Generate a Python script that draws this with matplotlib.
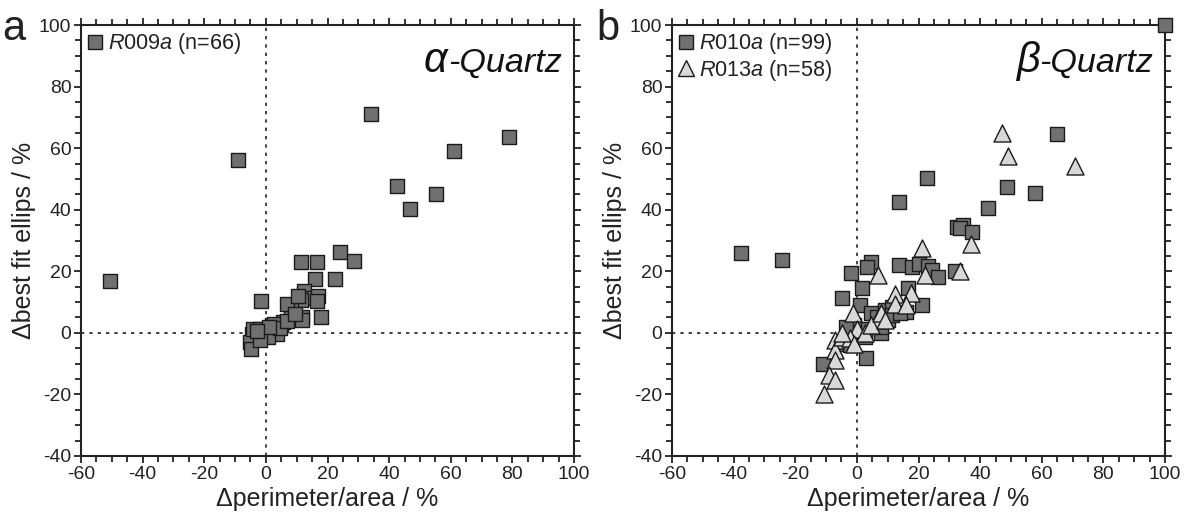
import matplotlib
matplotlib.use("Agg")
import matplotlib.pyplot as plt
from matplotlib.ticker import MultipleLocator
from matplotlib.lines import Line2D
from matplotlib import font_manager

names = {f.name for f in font_manager.fontManager.ttflist}
NARROW = 'Liberation Sans Narrow' in names
FONT = 'Liberation Sans Narrow' if NARROW else 'Liberation Sans'
k = 1.0 if NARROW else 0.82  # width compensation when narrow face is missing

plt.rcParams['font.family'] = [FONT, 'DejaVu Sans']
plt.rcParams['axes.unicode_minus'] = False
plt.rcParams['mathtext.fontset'] = 'custom'
plt.rcParams['mathtext.it'] = FONT + ':italic'
plt.rcParams['mathtext.rm'] = FONT

# Panel a: R009a
a_x = [-50.7, -8.9, 34.0, 78.9, 61.2, 42.5, 55.3, 46.8, 23.9, 28.7, 11.4, 16.5,
       15.8, 22.5, -1.7, 12.5, 13.0, 16.8, 16.5, 18.0, 11.4, 11.8, 11.8, 8.1, 6.8,
       5.0, 5.6, 0.2, -4.5, -5.3, -4.7, -4.3, -1.9, 1.9, 3.1, 3.7, 0.6, -1.9,
       2.5, 4.5, 7.0, 9.5, 1.0, -3.0, 10.5]
a_y = [16.8, 56.3, 71.0, 63.5, 59.0, 47.8, 45.0, 40.3, 26.4, 23.4, 23.0, 23.0,
       17.6, 17.4, 10.2, 13.5, 11.4, 11.9, 10.3, 5.2, 10.8, 5.2, 4.1, 7.4, 9.3,
       2.5, 3.6, 0.1, -0.5, -2.9, -5.4, 1.4, 1.4, 2.5, 0.9, -0.5, -1.3, -2.4,
       3.0, 1.5, 4.0, 6.0, 2.0, 0.5, 12.0]

# Panel b: R010a (squares)
b1_x = [100.0, -37.6, -24.2, 13.6, 22.6, 65.0, 48.6, 57.9, 42.4, 32.5, 34.4, 33.5,
        37.5, 31.9, 13.6, 18.0, 20.1, 23.2, 24.4, 26.3, 4.6, 3.3, -2.0, 1.7, -4.7,
        0.9, 16.6, 21.1, 16.1, -10.9, 3.0, 7.7, 4.6, 6.5, 9.0, 11.4, 10.2, 7.7,
        2.7, -1.0, -3.5, -4.7, -2.2, 2.7, 11.4, 13.9]
b1_y = [100.0, 25.8, 23.6, 42.6, 50.2, 64.6, 47.5, 45.3, 40.4, 34.5, 35.0, 33.9,
        32.6, 20.0, 22.0, 21.5, 22.5, 21.8, 20.4, 18.2, 23.1, 21.5, 19.3, 14.6, 11.4,
        9.0, 14.7, 9.0, 6.8, -10.0, -8.3, -0.2, 6.3, 5.2, 7.4, 8.5, 4.1, 2.0,
        1.4, 2.5, 2.0, -3.5, -4.0, -1.3, 5.7, 6.3]

# Panel b: R013a (triangles)
b2_x = [47.1, 49.1, 70.7, 37.1, 33.5, 21.1, 22.0, 6.7, 12.3, 17.6, 12.3, 16.1,
        -1.4, 6.5, 0.2, -7.2, -7.2, -7.2, -9.1, -7.2, -10.7, -4.7, -2.2, -1.0,
        2.7, 4.6, 7.7, 9.0, -4.7]
b2_y = [64.8, 57.5, 54.3, 29.0, 20.0, 27.7, 18.7, 18.7, 12.6, 12.8, 9.5, 9.0,
        6.3, 4.1, 1.4, -2.4, -5.6, -8.9, -13.8, -15.4, -19.9, -1.3, -1.8, -3.5,
        -0.2, 2.5, 6.3, 4.1, -0.2]

x_ticks = [-60, -40, -20, 0, 20, 40, 60, 80, 100]
y_ticks = [-40, -20, 0, 20, 40, 60, 80, 100]

SQ_FACE = '#707070'
TRI_FACE = '#d8d8d8'
EDGE = '#1a1a1a'
TXT = '#222222'

fig = plt.figure(figsize=(11.89, 5.13), dpi=100)
ax1 = fig.add_axes([81/1189, 1-456/513, 493/1189, 431/513])
ax2 = fig.add_axes([672/1189, 1-456/513, 493/1189, 431/513])

def style(ax):
    ax.set_xlim(-60, 100)
    ax.set_ylim(-40, 100)
    ax.set_xticks(x_ticks)
    ax.set_yticks(y_ticks)
    ax.xaxis.set_minor_locator(MultipleLocator(5))
    ax.yaxis.set_minor_locator(MultipleLocator(5))
    ax.tick_params(which='both', direction='out', top=True, right=True,
                   labeltop=False, labelright=False, width=1.3, color=TXT,
                   labelsize=17 * k, labelcolor=TXT)
    ax.tick_params(axis='x', pad=2)
    ax.tick_params(axis='y', pad=2)
    ax.tick_params(which='major', length=5)
    ax.tick_params(which='minor', length=4)
    for s in ax.spines.values():
        s.set_linewidth(1.5)
        s.set_color(TXT)
    ax.axhline(0, color=TXT, linestyle=(0, (2, 3)), linewidth=1.2, zorder=1)
    ax.axvline(0, color=TXT, linestyle=(0, (2, 3)), linewidth=1.2, zorder=1)
    ax.set_xlabel('Δperimeter/area / %', fontsize=22 * k, color=TXT, labelpad=3)
    ax.set_ylabel('Δbest fit ellips / %', fontsize=22 * k, color=TXT, labelpad=2)

style(ax1)
style(ax2)

ax1.scatter(a_x, a_y, marker='s', s=115, facecolor=SQ_FACE, edgecolor=EDGE,
            linewidth=1.0, zorder=3, clip_on=False)
ax2.scatter(b1_x, b1_y, marker='s', s=115, facecolor=SQ_FACE, edgecolor=EDGE,
            linewidth=1.0, zorder=3, clip_on=False)
ax2.scatter(b2_x, b2_y, marker='^', s=150, facecolor=TRI_FACE, edgecolor=EDGE,
            linewidth=1.0, zorder=4, clip_on=False)

sq = Line2D([], [], marker='s', linestyle='none', markersize=10.5,
            markerfacecolor=SQ_FACE, markeredgecolor=EDGE, markeredgewidth=1.0)
tri = Line2D([], [], marker='^', linestyle='none', markersize=12,
             markerfacecolor=TRI_FACE, markeredgecolor=EDGE, markeredgewidth=1.0)

leg_kw = dict(loc='upper left', frameon=False, handlelength=0.7, handletextpad=0.25,
              borderaxespad=0.15, borderpad=0.15, labelspacing=0.05, fontsize=19 * k,
              labelcolor=TXT)
ax1.legend([sq], [r'$\it{R009a}$ (n=66)'], **leg_kw)
ax2.legend([sq, tri], [r'$\it{R010a}$ (n=99)', r'$\it{R013a}$ (n=58)'], **leg_kw)

fig.canvas.draw()
renderer = fig.canvas.get_renderer()
for ax, greek in ((ax1, r'$\alpha$'), (ax2, r'$\beta$')):
    t = ax.text(0.976, 0.891, '-Quartz', transform=ax.transAxes, fontsize=30 * k,
                fontstyle='italic', ha='right', va='baseline', color='#111111')
    bb = t.get_window_extent(renderer)
    x0 = ax.transAxes.inverted().transform((bb.x0, bb.y0))[0]
    ax.text(x0 + 0.003, 0.891, greek, transform=ax.transAxes, fontsize=30,
            ha='right', va='baseline', color='#111111', family='DejaVu Serif')

fig.text(2/1189, 1-40/513, 'a', fontsize=30, color=TXT, va='baseline',
         family='Liberation Sans')
fig.text(596/1189, 1-40/513, 'b', fontsize=30, color=TXT, va='baseline',
         family='Liberation Sans')

fig.savefig('out.png', dpi=100)
